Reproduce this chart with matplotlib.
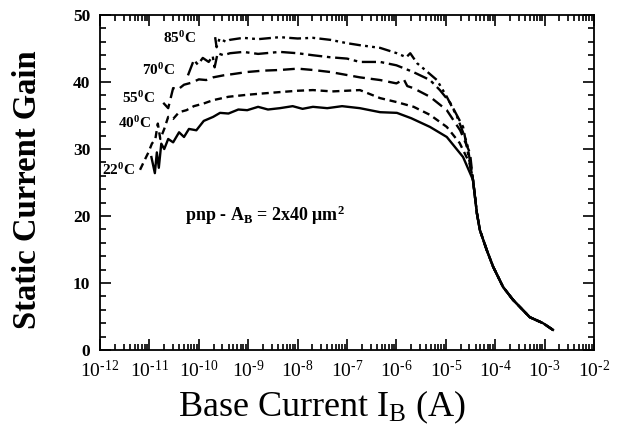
import numpy as np
import matplotlib
matplotlib.use("Agg")
import matplotlib.pyplot as plt
from matplotlib.ticker import FixedLocator, LogLocator, NullFormatter, MultipleLocator

plt.rcParams['font.family'] = ['Liberation Serif', 'DejaVu Serif']
plt.rcParams['mathtext.fontset'] = 'custom'
plt.rcParams['mathtext.rm'] = 'Liberation Serif'
plt.rcParams['mathtext.it'] = 'Liberation Serif:italic'
plt.rcParams['mathtext.bf'] = 'Liberation Serif:bold'

# log10 of base current (A) and static current gain
tail_log = [-4.45, -4.37, -4.31, -4.17, -4.04, -3.84, -3.64, -3.30, -3.03, -2.83]
tail_gain = [25.4, 20.4, 17.9, 14.9, 12.4, 9.4, 7.5, 4.9, 4.0, 3.0]

log22 = [-10.96, -10.89, -10.85, -10.81, -10.76, -10.70, -10.62, -10.52, -10.40, -10.30,
         -10.20, -10.05, -9.90, -9.71, -9.57, -9.40, -9.20, -9.02, -8.80, -8.60, -8.36,
         -8.10, -7.90, -7.69, -7.40, -7.10, -6.74, -6.33, -5.99, -5.70, -5.32, -4.98, -4.65]
gain22 = [28.8, 26.4, 29.5, 27.2, 30.8, 30.0, 31.5, 31.0, 32.5, 31.8,
          33.0, 32.8, 34.2, 34.8, 35.4, 35.3, 35.9, 35.8, 36.3, 35.9, 36.1,
          36.4, 36.0, 36.3, 36.1, 36.4, 36.1, 35.5, 35.4, 34.6, 33.3, 31.8, 28.8]

log40 = [-11.19, -11.10, -11.02, -10.95, -10.88, -10.83, -10.78, -10.70, -10.62, -10.52,
         -10.40, -10.25, -10.10, -9.90, -9.71, -9.40, -9.02, -8.70, -8.36, -8.00, -7.69,
         -7.30, -6.74, -6.33, -5.99, -5.65, -5.32, -4.98, -4.72, -4.52]
gain40 = [26.9, 28.3, 29.5, 30.8, 31.5, 33.8, 31.5, 33.0, 34.8, 34.5,
          35.5, 35.8, 36.4, 36.8, 37.3, 37.8, 38.1, 38.3, 38.5, 38.7, 38.8,
          38.6, 38.8, 37.6, 37.0, 36.3, 35.1, 33.3, 30.9, 27.9]

log55 = [-10.72, -10.62, -10.52, -10.42, -10.30, -10.15, -10.00, -9.85, -9.71, -9.50,
         -9.30, -9.02, -8.70, -8.36, -8.00, -7.69, -7.34, -6.74, -6.33, -6.00, -5.85,
         -5.78, -5.66, -5.32, -4.98, -4.71, -4.51]
gain55 = [36.9, 36.1, 39.1, 38.9, 39.6, 39.9, 40.4, 40.3, 40.7, 41.0,
          41.2, 41.5, 41.7, 41.8, 42.0, 41.8, 41.5, 40.7, 40.3, 39.8, 40.4,
          39.4, 39.1, 37.8, 35.8, 32.8, 29.4]

log70 = [-10.22, -10.10, -10.02, -9.92, -9.80, -9.72, -9.68, -9.62, -9.50, -9.37, -9.10,
         -8.80, -8.36, -8.00, -7.69, -7.34, -7.00, -6.74, -6.33, -6.00, -5.66, -5.32,
         -5.12, -4.91, -4.65]
gain70 = [41.0, 43.3, 42.6, 43.6, 43.0, 43.9, 42.2, 44.3, 44.0, 44.3, 44.5,
          44.2, 44.5, 44.3, 44.0, 43.7, 43.5, 43.0, 43.0, 42.5, 41.5, 40.3,
          38.8, 36.9, 33.3]

log85 = [-9.67, -9.64, -9.58, -9.45, -9.37, -9.10, -8.80, -8.36, -8.00, -7.69, -7.34,
         -7.00, -6.74, -6.33, -5.99, -5.80, -5.72, -5.58, -5.45, -5.18, -4.98, -4.77, -4.57]
gain85 = [46.7, 45.2, 46.5, 46.0, 46.3, 46.6, 46.4, 46.7, 46.5, 46.6, 46.3,
          45.8, 45.5, 45.1, 44.3, 43.7, 44.3, 42.8, 42.0, 40.3, 37.8, 34.8, 30.9]

curves = [
    (log22, gain22, '-'),
    (log40, gain40, (0, (3, 2))),
    (log55, gain55, (0, (5, 2.5))),
    (log70, gain70, (0, (6, 2, 1.5, 2))),
    (log85, gain85, (0, (5, 1.8, 1.2, 1.8, 1.2, 1.8))),
]

# temperature labels: (text, log10 I, gain)
labels = [
    ('85$^\\mathregular{0}$C', -10.72, 46.6),
    ('70$^\\mathregular{0}$C', -11.15, 41.8),
    ('55$^\\mathregular{0}$C', -11.55, 37.6),
    ('40$^\\mathregular{0}$C', -11.64, 33.9),
    ('22$^\\mathregular{0}$C', -11.97, 26.9),
]

xticks = [1e-12, 1e-11, 1e-10, 1e-9, 1e-8, 1e-7, 1e-6, 1e-5, 1e-4, 1e-3, 1e-2]
xticklabels = ['10$^\\mathregular{\u2010%d}$' % e for e in range(12, 1, -1)]
yticks = [0, 10, 20, 30, 40, 50]

fig = plt.figure(figsize=(6.19, 4.30), dpi=100)
ax = fig.add_axes([0.1616, 0.186, 0.798, 0.779])

for lx, g, ls in curves:
    lx_all = np.array(lx + tail_log)
    g_all = np.array(g + tail_gain)
    ax.plot(10.0 ** lx_all, g_all, color='black', linestyle=ls, lw=1.7)

for txt, lx, g in labels:
    ax.text(10.0 ** lx, g, txt, fontsize=11, fontweight='bold', ha='left', va='center')

ax.text(10.0 ** -10.28, 20.1, 'pnp - A$_\\mathregular{B}$ = 2x40 $\\mathregular{\\mu m^2}$',
        fontsize=13, fontweight='bold', ha='left', va='center')

ax.set_xscale('log')
ax.set_xlim(1e-12, 1e-2)
ax.set_ylim(0, 50)
ax.xaxis.set_major_locator(FixedLocator(xticks))
ax.set_xticklabels(xticklabels, fontsize=14)
ax.xaxis.set_minor_locator(LogLocator(base=10, subs=np.arange(2, 10), numticks=20))
ax.xaxis.set_minor_formatter(NullFormatter())
ax.set_yticks(yticks)
ax.set_yticklabels([str(v) for v in yticks], fontsize=12.5, fontweight='bold')
ax.yaxis.set_minor_locator(MultipleLocator(2))

ax.tick_params(which='both', direction='in', top=True, right=True, width=1.2)
ax.tick_params(which='major', length=8, pad=7)
ax.tick_params(which='minor', length=4)
for s in ax.spines.values():
    s.set_linewidth(1.3)

ax.set_xlabel('Base Current I$_\\mathregular{B}$ (A)', fontsize=26)
ax.xaxis.set_label_coords(0.45, -0.115)
ax.set_ylabel('Static Current Gain', fontsize=23.5, fontweight='bold')
ax.yaxis.set_label_coords(-0.115, 0.48)

fig.savefig('out.png', dpi=100)
